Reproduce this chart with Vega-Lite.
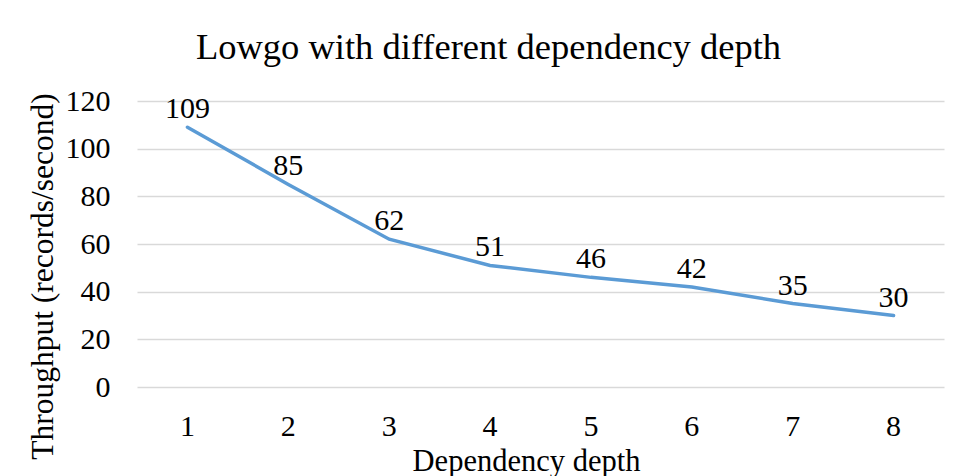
{
  "$schema": "https://vega.github.io/schema/vega-lite/v6.json",
  "autosize": {"type": "none"},
  "width": 807,
  "height": 286,
  "padding": {"left": 137, "top": 101, "right": 12, "bottom": 89},
  "background": "white",
  "config": {
    "view": {"stroke": null},
    "font": "Liberation Serif"
  },
  "title": {
    "text": "Lowgo with different dependency depth",
    "font": "Liberation Serif",
    "fontSize": 36.5,
    "fontWeight": "normal",
    "color": "#000000",
    "anchor": "middle",
    "frame": "group",
    "dx": -52,
    "offset": 20
  },
  "data": {
    "values": [
      {"depth": "1", "throughput": 109},
      {"depth": "2", "throughput": 85},
      {"depth": "3", "throughput": 62},
      {"depth": "4", "throughput": 51},
      {"depth": "5", "throughput": 46},
      {"depth": "6", "throughput": 42},
      {"depth": "7", "throughput": 35},
      {"depth": "8", "throughput": 30}
    ]
  },
  "encoding": {
    "x": {
      "field": "depth",
      "type": "ordinal",
      "scale": {"type": "band", "paddingInner": 0, "paddingOuter": 0},
      "axis": {
        "title": "Dependency depth",
        "labelAngle": 0,
        "labelFont": "Liberation Serif",
        "labelFontSize": 30,
        "labelColor": "#000000",
        "labelBaseline": "alphabetic",
        "labelPadding": 48,
        "ticks": false,
        "domain": false,
        "grid": false,
        "titleFont": "Liberation Serif",
        "titleFontSize": 30.5,
        "titleFontWeight": "normal",
        "titleColor": "#000000",
        "titleX": 389,
        "titleY": 74,
        "titleBaseline": "middle",
        "titleAlign": "center"
      }
    },
    "y": {
      "field": "throughput",
      "type": "quantitative",
      "scale": {"domain": [0, 120], "nice": false},
      "axis": {
        "title": "Throughput (records/second)",
        "values": [0, 20, 40, 60, 80, 100, 120],
        "labelFont": "Liberation Serif",
        "labelFontSize": 30,
        "labelColor": "#000000",
        "labelPadding": 27,
        "ticks": false,
        "domain": false,
        "grid": true,
        "gridColor": "#d9d9d9",
        "gridWidth": 1.5,
        "titleFont": "Liberation Serif",
        "titleFontSize": 31.5,
        "titleFontWeight": "normal",
        "titleColor": "#000000",
        "titleAngle": -90,
        "titleX": -94,
        "titleY": 175,
        "titleAlign": "center",
        "titleBaseline": "middle"
      }
    }
  },
  "layer": [
    {
      "mark": {"type": "line", "color": "#5b9bd5", "strokeWidth": 3.5, "strokeCap": "round"}
    },
    {
      "mark": {"type": "text", "font": "Liberation Serif", "fontSize": 30, "color": "#000000", "baseline": "alphabetic", "dy": -9},
      "encoding": {"text": {"field": "throughput", "type": "quantitative"}}
    }
  ]
}
